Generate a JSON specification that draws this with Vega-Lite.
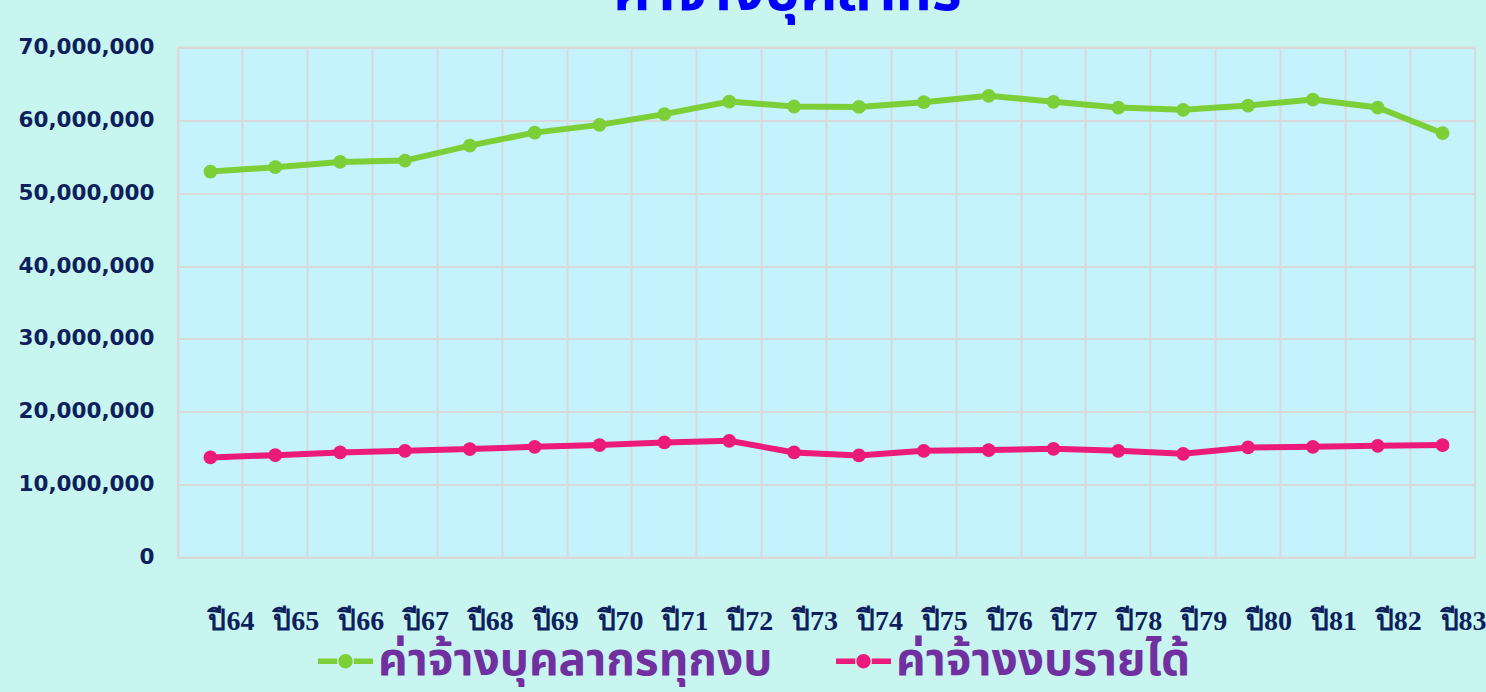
{
  "$schema": "https://vega.github.io/schema/vega-lite/v6.json",
  "autosize": {"type": "none"},
  "width": 1297,
  "height": 510,
  "padding": {"left": 178, "top": 47.5, "right": 11, "bottom": 134},
  "background": "#c8f5ef",
  "title": {
    "text": "ค่าจ้างบุคลากร",
    "color": "#0000ff",
    "fontSize": 57,
    "fontWeight": "bold",
    "font": "Noto Sans Thai, Noto Sans",
    "anchor": "middle",
    "dx": -39,
    "baseline": "alphabetic",
    "offset": -30
  },
  "config": {
    "view": {"fill": "#c4f2fd", "stroke": "#d9d9d9", "strokeWidth": 2},
    "axis": {"gridColor": "#d9d9d9", "gridWidth": 2, "gridOpacity": 1, "domain": false, "ticks": false, "title": null}
  },
  "data": {
    "values": [
      {"year": "ปี64", "series": "ค่าจ้างบุคลากรทุกงบ", "value": 52970000},
      {"year": "ปี65", "series": "ค่าจ้างบุคลากรทุกงบ", "value": 53570000},
      {"year": "ปี66", "series": "ค่าจ้างบุคลากรทุกงบ", "value": 54300000},
      {"year": "ปี67", "series": "ค่าจ้างบุคลากรทุกงบ", "value": 54480000},
      {"year": "ปี68", "series": "ค่าจ้างบุคลากรทุกงบ", "value": 56540000},
      {"year": "ปี69", "series": "ค่าจ้างบุคลากรทุกงบ", "value": 58320000},
      {"year": "ปี70", "series": "ค่าจ้างบุคลากรทุกงบ", "value": 59380000},
      {"year": "ปี71", "series": "ค่าจ้างบุคลากรทุกงบ", "value": 60850000},
      {"year": "ปี72", "series": "ค่าจ้างบุคลากรทุกงบ", "value": 62580000},
      {"year": "ปี73", "series": "ค่าจ้างบุคลากรทุกงบ", "value": 61900000},
      {"year": "ปี74", "series": "ค่าจ้างบุคลากรทุกงบ", "value": 61850000},
      {"year": "ปี75", "series": "ค่าจ้างบุคลากรทุกงบ", "value": 62500000},
      {"year": "ปี76", "series": "ค่าจ้างบุคลากรทุกงบ", "value": 63370000},
      {"year": "ปี77", "series": "ค่าจ้างบุคลากรทุกงบ", "value": 62540000},
      {"year": "ปี78", "series": "ค่าจ้างบุคลากรทุกงบ", "value": 61760000},
      {"year": "ปี79", "series": "ค่าจ้างบุคลากรทุกงบ", "value": 61440000},
      {"year": "ปี80", "series": "ค่าจ้างบุคลากรทุกงบ", "value": 62030000},
      {"year": "ปี81", "series": "ค่าจ้างบุคลากรทุกงบ", "value": 62860000},
      {"year": "ปี82", "series": "ค่าจ้างบุคลากรทุกงบ", "value": 61760000},
      {"year": "ปี83", "series": "ค่าจ้างบุคลากรทุกงบ", "value": 58240000},
      {"year": "ปี64", "series": "ค่าจ้างงบรายได้", "value": 13740000},
      {"year": "ปี65", "series": "ค่าจ้างงบรายได้", "value": 14050000},
      {"year": "ปี66", "series": "ค่าจ้างงบรายได้", "value": 14420000},
      {"year": "ปี67", "series": "ค่าจ้างงบรายได้", "value": 14640000},
      {"year": "ปี68", "series": "ค่าจ้างงบรายได้", "value": 14880000},
      {"year": "ปี69", "series": "ค่าจ้างงบรายได้", "value": 15190000},
      {"year": "ปี70", "series": "ค่าจ้างงบรายได้", "value": 15430000},
      {"year": "ปี71", "series": "ค่าจ้างงบรายได้", "value": 15800000},
      {"year": "ปี72", "series": "ค่าจ้างงบรายได้", "value": 16020000},
      {"year": "ปี73", "series": "ค่าจ้างงบรายได้", "value": 14420000},
      {"year": "ปี74", "series": "ค่าจ้างงบรายได้", "value": 14010000},
      {"year": "ปี75", "series": "ค่าจ้างงบรายได้", "value": 14640000},
      {"year": "ปี76", "series": "ค่าจ้างงบรายได้", "value": 14740000},
      {"year": "ปี77", "series": "ค่าจ้างงบรายได้", "value": 14920000},
      {"year": "ปี78", "series": "ค่าจ้างงบรายได้", "value": 14640000},
      {"year": "ปี79", "series": "ค่าจ้างงบรายได้", "value": 14230000},
      {"year": "ปี80", "series": "ค่าจ้างงบรายได้", "value": 15110000},
      {"year": "ปี81", "series": "ค่าจ้างงบรายได้", "value": 15190000},
      {"year": "ปี82", "series": "ค่าจ้างงบรายได้", "value": 15330000},
      {"year": "ปี83", "series": "ค่าจ้างงบรายได้", "value": 15430000}
    ]
  },
  "mark": {"type": "line", "strokeWidth": 6, "point": {"filled": true, "size": 190}},
  "encoding": {
    "x": {
      "field": "year",
      "type": "nominal",
      "sort": null,
      "scale": {"type": "band", "paddingInner": 0, "paddingOuter": 0},
      "axis": {
        "bandPosition": 0,
        "grid": true,
        "labelAngle": 0,
        "labelAlign": "left",
        "labelOffset": -2,
        "labelBaseline": "alphabetic",
        "labelPadding": 72,
        "labelFont": "Liberation Serif",
        "labelFontSize": 28,
        "labelFontWeight": "bold",
        "labelColor": "#0d1f5c",
        "labelFlush": false,
        "labelOverlap": false
      }
    },
    "y": {
      "field": "value",
      "type": "quantitative",
      "scale": {"domain": [0, 70000000], "nice": false},
      "axis": {
        "values": [0, 10000000, 20000000, 30000000, 40000000, 50000000, 60000000, 70000000],
        "format": ",d",
        "grid": true,
        "labelFont": "DejaVu Sans",
        "labelFontSize": 21.5,
        "labelFontWeight": "bold",
        "labelColor": "#0d1f5c",
        "labelPadding": 24
      }
    },
    "color": {
      "field": "series",
      "type": "nominal",
      "scale": {"domain": ["ค่าจ้างบุคลากรทุกงบ", "ค่าจ้างงบรายได้"], "range": ["#7dcf38", "#ec1a7a"]},
      "legend": {
        "title": null,
        "orient": "none",
        "direction": "horizontal",
        "legendX": 140,
        "legendY": 586,
        "symbolType": "M-1,-0.1L-0.3,-0.1L-0.3,0.1L-1,0.1Z M0.3,-0.1L1,-0.1L1,0.1L0.3,0.1Z M-0.26,0A0.26,0.26 0 1,1 0.26,0A0.26,0.26 0 1,1 -0.26,0Z",
        "symbolSize": 3025,
        "symbolStrokeWidth": 0,
        "labelFont": "Noto Sans Thai, Noto Sans",
        "labelFontSize": 46,
        "labelFontWeight": "bold",
        "labelColor": "#7030a0",
        "labelOffset": 5,
        "labelLimit": 1000,
        "columnPadding": 63,
        "encode": {
          "symbols": {"update": {"fill": {"scale": "color", "field": "value"}, "stroke": {"value": "transparent"}, "opacity": {"value": 1}}}
        }
      }
    }
  }
}
